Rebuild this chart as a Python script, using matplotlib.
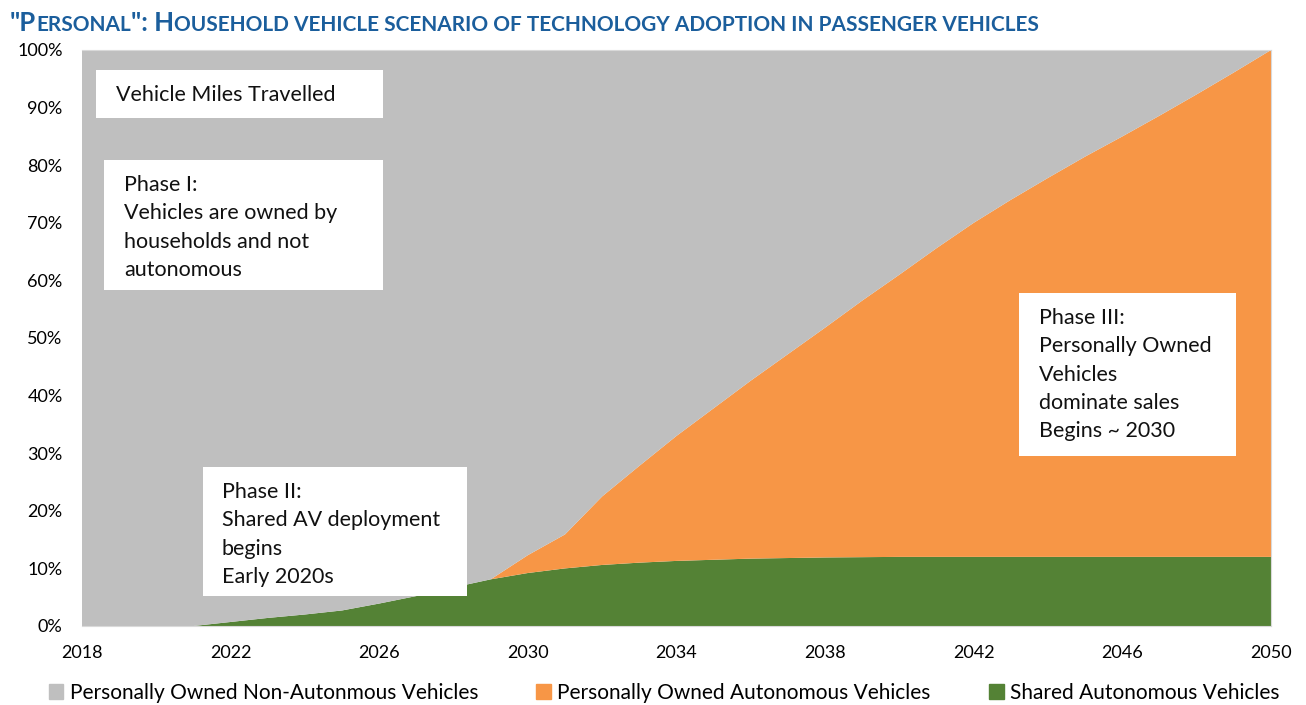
import matplotlib.pyplot as plt
from matplotlib.patches import Patch, Rectangle

plt.rcParams['font.family'] = ['Lato', 'DejaVu Sans']

# share of vehicle miles travelled, percent
years = list(range(2018, 2051))
shared_auto = [0, 0, 0, 0, 0.7, 1.4, 2.0, 2.7, 3.9, 5.2, 6.7, 8.1,
               9.2, 10.0, 10.6, 11.0, 11.3, 11.5, 11.7, 11.8, 11.9, 11.95,
               12, 12, 12, 12, 12, 12, 12, 12, 12, 12, 12]
owned_auto = [0, 0, 0, 0, 0, 0, 0, 0, 0, 0, 0, 0,
              3.1, 5.9, 11.9, 16.8, 21.7, 26.3, 30.9, 35.4, 39.9, 44.55,
              49.0, 53.6, 58.0, 62.0, 65.8, 69.5, 73.0, 76.6, 80.3, 84.1, 88.0]
owned_non_auto = [100, 100, 100, 100, 99.3, 98.6, 98.0, 97.3, 96.1, 94.8, 93.3, 91.9,
                  87.7, 84.1, 77.5, 72.2, 67.0, 62.2, 57.4, 52.8, 48.2, 43.5,
                  39.0, 34.4, 30.0, 26.0, 22.2, 18.5, 15.0, 11.4, 7.7, 3.9, 0.0]

labels = ['Personally Owned Non-Autonmous Vehicles',
          'Personally Owned Autonomous Vehicles',
          'Shared Autonomous Vehicles']
gray, orange, green = '#BFBFBF', '#F79646', '#548235'

W, H = 1306, 705
fig = plt.figure(figsize=(W / 100, H / 100), dpi=100)
ax = fig.add_axes([82 / W, 1 - 626 / H, (1271 - 82) / W, (626 - 50) / H])

ax.stackplot(years, shared_auto, owned_auto, owned_non_auto,
             colors=[green, orange, gray], linewidth=0)
ax.set_xlim(2018, 2050)
ax.set_ylim(0, 100)
ax.set_xticks(range(2018, 2051, 4))
ax.set_yticks(range(0, 101, 10))
ax.set_yticklabels([f'{v}%' for v in range(0, 101, 10)])
ax.tick_params(length=0, labelsize=13)
ax.tick_params(axis='y', pad=14)
ax.tick_params(axis='x', pad=14)
ax.spines['left'].set_visible(False)
for s in ['top', 'right', 'bottom']:
    ax.spines[s].set_color('#D9D9D9')

# title in small caps: big first letters, smaller capitals for the rest
title_color = '#1B5E9C'
parts = [('"P', 18.5), ('ERSONAL', 15), ('": H', 18.5),
         ('OUSEHOLD VEHICLE SCENARIO OF TECHNOLOGY ADOPTION IN PASSENGER VEHICLES', 15)]
prev = fig.text(10 / W, 1 - 31 / H, parts[0][0], fontsize=parts[0][1],
                fontweight='bold', color=title_color, va='baseline')
for txt, size in parts[1:]:
    prev = ax.annotate(txt, xy=(1, 0), xycoords=prev, fontsize=size,
                       fontweight='bold', color=title_color,
                       va='bottom', ha='left', annotation_clip=False)


def box(x0, y0, x1, y1, text, tx, ty):
    fig.add_artist(Rectangle((x0 / W, 1 - y1 / H), (x1 - x0) / W, (y1 - y0) / H,
                             transform=fig.transFigure, facecolor='white',
                             edgecolor='none', zorder=3))
    fig.text(tx / W, 1 - ty / H, text, fontsize=15.5, va='top', ha='left',
             linespacing=1.52, zorder=4, color='#111111')


box(96, 70, 383, 118, 'Vehicle Miles Travelled', 116, 85)
box(104, 160, 383, 290, 'Phase I:\nVehicles are owned by\nhouseholds and not\nautonomous', 124, 175)
box(203, 467, 467, 596, 'Phase II:\nShared AV deployment\nbegins\nEarly 2020s', 222, 482)
box(1019, 293, 1236, 456, 'Phase III:\nPersonally Owned\nVehicles\ndominate sales\nBegins ~ 2030', 1039, 308)

handles = [Patch(color=gray), Patch(color=orange), Patch(color=green)]
fig.legend(handles, labels, loc='center', bbox_to_anchor=(664 / W, 1 - 693 / H),
           ncol=3, frameon=False, fontsize=15, handlelength=0.7,
           handleheight=0.7, handletextpad=0.3, columnspacing=2.8)

fig.savefig('out.png', dpi=100)
